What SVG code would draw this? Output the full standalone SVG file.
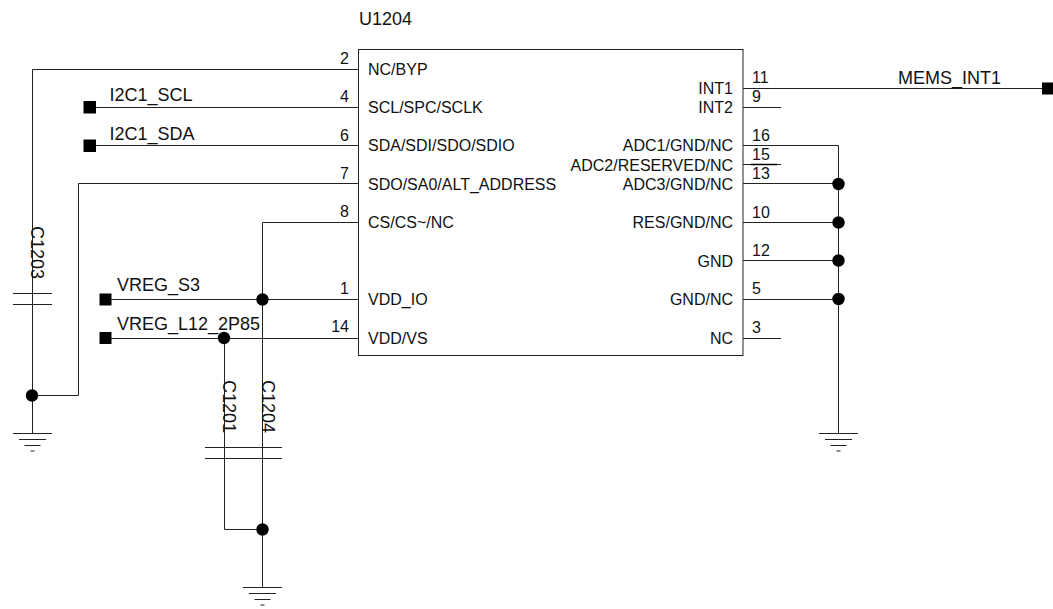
<svg xmlns="http://www.w3.org/2000/svg" width="1053" height="609" viewBox="0 0 1053 609">
<style>
text{font-family:"Liberation Sans",Arial,sans-serif;font-size:16px;fill:#111}
.e{text-anchor:end}
.l{font-size:18px}
.w,.g path{fill:none;stroke:#222;stroke-width:1}
.t{fill:#000}
</style>
<defs>
<g id="gnd" class="g"><path d="M-19.500 0H19.500M-13.500 6H13.500M-8 12H8M-2 17.500H2"/></g>
<g id="cap" class="g"><path d="M-19.500 0H19.500M-19.500 11H19.500"/></g>
</defs>
<rect width="1053" height="609" fill="#fff"/>
<g id="connectors" class="w">
<path d="M358.500 69.500H32.500V433.500"/>
<path d="M358.500 107.500H90"/>
<path d="M358.500 145.500H90"/>
<path d="M358.500 183.500H78.500V395.500H32.500"/>
<path d="M358.500 222.500H262.500V587.500"/>
<path d="M358.500 299.500H105"/>
<path d="M358.500 338.500H105"/>
<path d="M224.500 338.500V529.500H262.500"/>
<path d="M743 88.500H1047"/>
<path d="M743 107.500H781"/>
<path d="M743 145.500H838.500V433.500"/>
<path d="M743 164.500H781"/>
<path d="M743 183.500H838.500M743 222.500H838.500M743 260.500H838.500M743 299.500H838.500"/>
<path d="M743 338.500H781"/>
</g>
<g id="U1204">
<rect x="358.500" y="49.500" width="384.500" height="306" fill="none" stroke="#222"/>
<text x="359" y="25" class="l">U1204</text>
<text x="368" y="75">NC/BYP</text>
<text x="368" y="113">SCL/SPC/SCLK</text>
<text x="368" y="151">SDA/SDI/SDO/SDIO</text>
<text x="368" y="190">SDO/SA0/ALT_ADDRESS</text>
<text x="368" y="228">CS/CS~/NC</text>
<text x="368" y="305">VDD_IO</text>
<text x="368" y="344">VDD/VS</text>
<text class="e" x="733" y="94">INT1</text>
<text class="e" x="733" y="113">INT2</text>
<text class="e" x="733" y="151">ADC1/GND/NC</text>
<text class="e" x="733" y="171">ADC2/RESERVED/NC</text>
<text class="e" x="733" y="190">ADC3/GND/NC</text>
<text class="e" x="733" y="228">RES/GND/NC</text>
<text class="e" x="733" y="267">GND</text>
<text class="e" x="733" y="305">GND/NC</text>
<text class="e" x="733" y="344">NC</text>
<text class="e" x="349" y="64">2</text>
<text class="e" x="349" y="102">4</text>
<text class="e" x="349" y="141">6</text>
<text class="e" x="349" y="179">7</text>
<text class="e" x="349" y="217">8</text>
<text class="e" x="349" y="294">1</text>
<text class="e" x="349" y="332">14</text>
<text x="752" y="83">11</text>
<text x="752" y="102">9</text>
<text x="752" y="141">16</text>
<text x="752" y="160">15</text>
<text x="752" y="179">13</text>
<text x="752" y="218">10</text>
<text x="752" y="256">12</text>
<text x="752" y="294">5</text>
<text x="752" y="333">3</text>
<path d="M751 164.500H777" stroke="#000" stroke-width="1.500"/>
</g>
<g id="I2C1_SCL"><rect class="t" x="83.500" y="101" width="12.500" height="12.500"/><text class="l" x="109.500" y="101">I2C1_SCL</text></g>
<g id="I2C1_SDA"><rect class="t" x="83.500" y="139.500" width="12.500" height="12.500"/><text class="l" x="109.500" y="140">I2C1_SDA</text></g>
<g id="VREG_S3"><rect class="t" x="99.500" y="293.500" width="12" height="12"/><text class="l" x="117" y="291">VREG_S3</text></g>
<g id="VREG_L12_2P85"><rect class="t" x="99.500" y="332" width="12" height="12"/><text class="l" x="117" y="330">VREG_L12_2P85</text></g>
<g id="MEMS_INT1"><rect class="t" x="1042" y="82.500" width="11" height="12"/><text class="l" x="898" y="84">MEMS_INT1</text></g>
<g id="C1203"><use href="#cap" x="32.500" y="293.500"/><text class="l" transform="translate(31,226) rotate(90)">C1203</text></g>
<g id="C1201"><use href="#cap" x="224.500" y="447.500"/><text class="l" transform="translate(223,380) rotate(90)">C1201</text></g>
<g id="C1204"><use href="#cap" x="262.500" y="447.500"/><text class="l" transform="translate(262,380) rotate(90)">C1204</text></g>
<g id="GND1"><use href="#gnd" x="32.500" y="433.500"/></g>
<g id="GND2"><use href="#gnd" x="262.500" y="587.500"/></g>
<g id="GND3"><use href="#gnd" x="838.500" y="433.500"/></g>
<g id="junctions" class="t">
<circle cx="32" cy="395.500" r="6.200"/>
<circle cx="262.500" cy="299.500" r="6.200"/>
<circle cx="224" cy="338" r="6.200"/>
<circle cx="262.500" cy="529.500" r="6.200"/>
<circle cx="838.500" cy="184" r="6.200"/>
<circle cx="838.500" cy="222.500" r="6.200"/>
<circle cx="838.500" cy="260.500" r="6.200"/>
<circle cx="838.500" cy="299" r="6.200"/>
</g>
</svg>
